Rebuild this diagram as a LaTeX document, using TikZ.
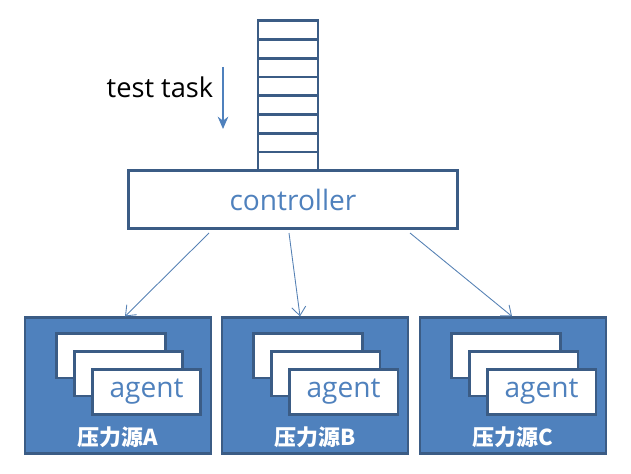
\documentclass[tikz,border=0pt]{standalone}
\usepackage{fontspec}
\setmainfont{Open Sans}
\newfontfamily\cjk{Noto Sans CJK SC}
\usetikzlibrary{arrows.meta}
\usetikzlibrary{positioning}
\definecolor{boxblue}{HTML}{4F81BD}
\definecolor{edgeblue}{HTML}{3B5C85}

\begin{document}
\begin{tikzpicture}[x=0.02cm,y=-0.02cm,>=Stealth,
    ctrl/.style={draw=edgeblue,line width=1.5pt,fill=white,minimum width=6.58cm,minimum height=1.16cm,
                 text=boxblue,font=\fontsize{16}{19}\selectfont},
    source/.style={draw=edgeblue,line width=1.3pt,fill=boxblue,minimum width=3.72cm,minimum height=2.72cm},
    card/.style={draw=edgeblue,line width=1.7pt,fill=white,minimum width=2.18cm,minimum height=0.9cm,
                 text=boxblue,font=\fontsize{16}{19}\selectfont},
    tag/.style={text=white,font=\cjk\bfseries\fontsize{12.5}{15}\selectfont},
    push/.style={->,draw=boxblue!85!gray,line width=0.5pt,>={Straight Barb[length=5pt,width=8pt]}}]
  \useasboundingbox (0,0) rectangle (631,473);
  % task queue
  \draw[edgeblue,line width=1.6pt] (258,20.7) rectangle (318,170.7);
  \foreach \i in {1,...,7}
    \draw[edgeblue,line width=1.6pt] (258,20.7+18.75*\i) -- (318,20.7+18.75*\i);
  \node (task) at (160,87) {\fontsize{15.5}{18}\selectfont test task};
  \coordinate (taskTop) at (223,67);
  \coordinate (taskEnd) at (223,129);
  \draw[->,boxblue,line width=1.4pt,>={Stealth[length=7pt,width=6pt]}] (taskTop) -- (taskEnd);
  % controller
  \node[ctrl] (ctrl) at (293,199.7) {controller};
  % load sources
  \foreach \name/\cx/\lab in {A/118/A,B/315/B,C/513/C}{
    \node[source] (src\name) at (\cx,385.5) {};
    \node[card] (c1\name) at (\cx-7,355.5) {};
    \node[card] (c2\name) at (\cx+10.5,373.5) {};
    \node[card] (c3\name) at (\cx+28.5,392) {\raisebox{-2pt}{agent}};
    \node[tag] (lab\name) at (\cx,437.5) {压力源\lab};
  }
  \coordinate (outA) at (209,233);
  \coordinate (outB) at (289,233);
  \coordinate (outC) at (410,233);
  \draw[push] (outA) -- ([xshift=0.14cm]srcA.north);
  \draw[push] (outB) -- ([xshift=-0.3cm]srcB.north);
  \draw[push] (outC) -- ([xshift=-0.02cm]srcC.north);
\end{tikzpicture}
\end{document}
